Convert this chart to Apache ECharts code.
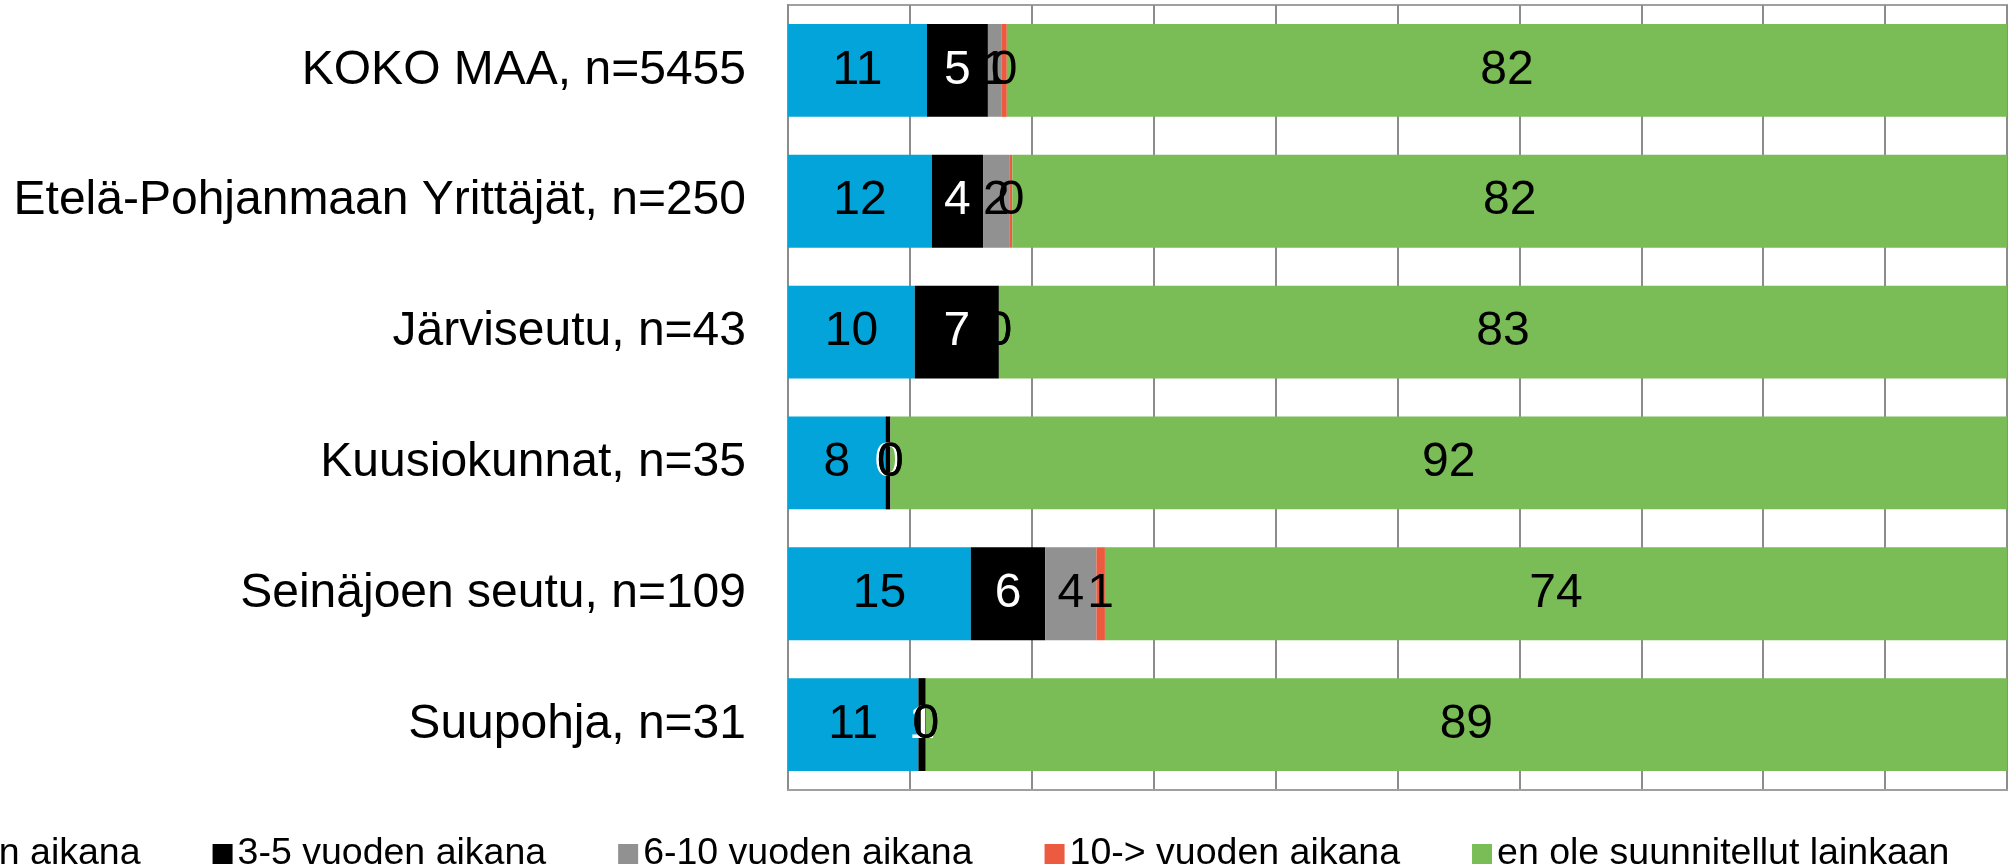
<!DOCTYPE html>
<html>
<head>
<meta charset="utf-8">
<script src="https://cdn.jsdelivr.net/npm/echarts@6/dist/echarts.min.js"></script>
<style>
html,body{margin:0;padding:0;background:#fff;}
#c{width:2011px;height:865px;}
</style>
</head>
<body>
<div id="c"></div>
<script>
const categories = ["KOKO MAA, n=5455", "Etelä-Pohjanmaan Yrittäjät, n=250", "Järviseutu, n=43", "Kuusiokunnat, n=35", "Seinäjoen seutu, n=109", "Suupohja, n=31"];
const seriesNames = ["1-2 vuoden aikana", "3-5 vuoden aikana", "6-10 vuoden aikana", "10-> vuoden aikana", "en ole suunnitellut lainkaan"];
const s1 = [11.4, 11.8, 10.4, 8.0, 15.0, 10.7];
const s2 = [5.0, 4.2, 6.9, 0.4, 6.1, 0.6];
const s3 = [1.1, 2.2, 0, 0, 4.2, 0];
const s4 = [0.45, 0.2, 0, 0, 0.7, 0];
const s5 = [82.05, 81.6, 82.7, 91.6, 74.0, 88.7];
const xTicks = [0, 10, 20, 30, 40, 50, 60, 70, 80, 90, 100];

const colors = ["#02A4D9", "#000000", "#919191", "#EC5B3F", "#7ABC56"];
const labelColors = ["#000", "#fff", "#000", "#000", "#000"];
const FONT = "'Liberation Sans', Arial, sans-serif";
const allData = [s1, s2, s3, s4, s5];

const chart = echarts.init(document.getElementById('c'), null, {renderer: 'canvas'});
chart.setOption({
  animation: false,
  backgroundColor: '#fff',
  grid: {left: 788, right: 4, top: 5, bottom: 75, show: true, borderColor: '#a0a0a0', borderWidth: 2,
         containLabel: false, outerBoundsMode: 'none'},
  legend: {
    left: -198, top: 829,
    itemWidth: 20, itemHeight: 20, itemGap: 72, icon: 'rect',
    textStyle: {fontFamily: FONT, fontSize: 37.5, color: '#000', lineHeight: 40},
    data: seriesNames
  },
  xAxis: {
    type: 'value', min: xTicks[0], max: xTicks[xTicks.length - 1], interval: 10,
    axisLabel: {show: false}, axisTick: {show: false},
    axisLine: {show: true, lineStyle: {color: '#a0a0a0', width: 2}},
    splitLine: {show: true, lineStyle: {color: '#8c8c8c', width: 2}}
  },
  yAxis: {
    type: 'category', inverse: true, data: categories,
    axisTick: {show: false},
    axisLine: {show: true, lineStyle: {color: '#8c8c8c', width: 2}},
    axisLabel: {fontFamily: FONT, fontSize: 48, color: '#000', margin: 42}
  },
  series: allData.map((d, i) => ({
    name: seriesNames[i], type: 'bar', stack: 'a', data: d,
    barCategoryGap: '29%',
    itemStyle: {color: colors[i]},
    label: {show: true, position: 'inside', fontFamily: FONT, fontSize: 48, color: labelColors[i],
      formatter: p => String(Math.round(p.value))}
  }))
});
</script>
</body>
</html>
